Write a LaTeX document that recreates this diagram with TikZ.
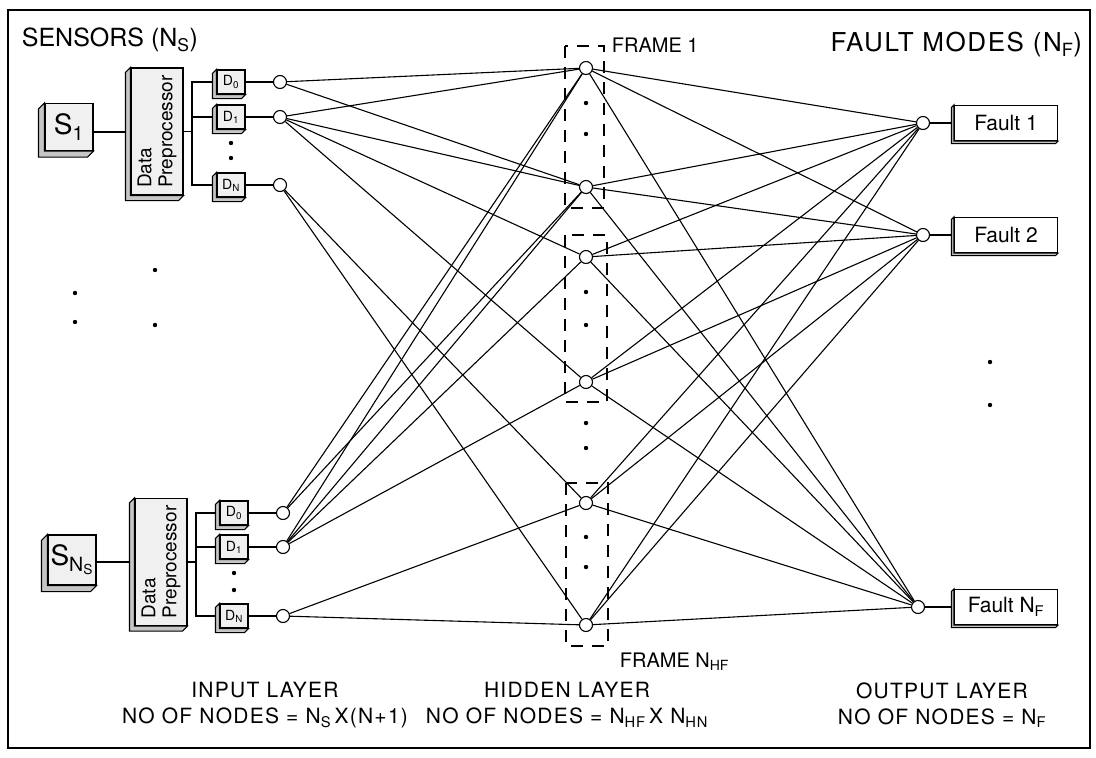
\documentclass[tikz,border=0pt]{standalone}
\usepackage{fontspec}
\setmainfont{TeX Gyre Heros}
\newfontfamily\spacedfont[LetterSpace=6]{TeX Gyre Heros}
\usetikzlibrary{calc}

\newcommand{\depthbox}[2]{%
  \draw[fill=gray!45] (#1.north west) -- ++(-#2,-#2) |- ($(#1.south east)+(-#2,-#2)$)
    -- (#1.south east) -- (#1.south west) -- cycle;}

\begin{document}
\begin{tikzpicture}[x=1pt, y=-1pt, line width=1.1pt,
  neuron/.style={circle, draw, fill=white, inner sep=0pt, minimum size=13pt},
  sbox/.style={draw, fill=gray!12, inner sep=0pt, minimum width=48pt, minimum height=47pt, font=\fontsize{28}{28}\selectfont},
  pbox/.style={draw, fill=gray!12, inner sep=0pt, minimum width=52pt, minimum height=127pt},
  dbox/.style={draw, fill=gray!12, inner sep=0pt, minimum width=28pt, minimum height=24pt, font=\fontsize{14}{14}\selectfont},
  fbox/.style={draw, fill=white, inner sep=0pt, minimum width=103pt, minimum height=35pt, font=\fontsize{21}{21}\selectfont},
  frame/.style={dash pattern=on 12pt off 9pt, line width=2.4pt},
  label/.style={font=\spacedfont\fontsize{21}{26}\selectfont, align=center}]
\useasboundingbox (0,0) rectangle (1096,758);
\draw (8,10) rectangle (1090,748);

% headings
\node[anchor=west, font=\fontsize{25}{25}\selectfont] (sensors) at (18,40) {SENSORS (N\textsubscript{S})};
\node[anchor=west, font=\fontsize{20}{20}\selectfont] (frame1) at (608,45) {FRAME 1};
\node[anchor=east, font=\spacedfont\fontsize{26}{26}\selectfont] (faults) at (1086,45) {FAULT MODES (N\textsubscript{F})};
\node[anchor=west, font=\fontsize{20}{20}\selectfont] (framen) at (616,662) {FRAME N\textsubscript{HF}};

% sensors and preprocessors
\node[sbox] (s1) at (69,127) {S\textsubscript{1}};
\node[sbox, minimum height=50pt] (sn) at (72,560) {S\textsubscript{N\textsubscript{S}}};
\node[pbox] (p1) at (157,131.5) {};
\node[pbox] (p2) at (161,562) {};
\node[rotate=90, align=left, font=\fontsize{19}{21}\selectfont] (t1) at (p1) {Data\\Preprocessor};
\node[rotate=90, align=left, font=\fontsize{19}{21}\selectfont] (t2) at (p2) {Data\\Preprocessor};

% delayed samples
\node[dbox] (d10) at (231,82) {D\textsubscript{0}};
\node[dbox] (d11) at (231,117) {D\textsubscript{1}};
\node[dbox] (d1n) at (231,185) {D\textsubscript{N}};
\node[dbox] (d20) at (234,513) {D\textsubscript{0}};
\node[dbox] (d21) at (234,547) {D\textsubscript{1}};
\node[dbox] (d2n) at (234,616) {D\textsubscript{N}};
\coordinate (b1) at (192,131.5);
\coordinate (b2) at (196,562);

% input layer
\node[neuron] (i1) at (280,82) {};
\node[neuron] (i2) at (280,117) {};
\node[neuron] (i3) at (280,185) {};
\node[neuron] (i4) at (283,513) {};
\node[neuron] (i5) at (283,547) {};
\node[neuron] (i6) at (283,616) {};

% hidden layer
\node[neuron] (h1) at (586,68) {};
\node[neuron] (h2) at (586,187) {};
\node[neuron] (h3) at (586,257) {};
\node[neuron] (h4) at (586,382) {};
\node[neuron] (h5) at (586,503) {};
\node[neuron] (h6) at (586,625) {};

% output layer
\node[neuron] (o1) at (923,123) {};
\node[neuron] (o2) at (923,235) {};
\node[neuron] (o3) at (918,607) {};
\node[fbox] (f1) at (1006,123) {Fault 1};
\node[fbox] (f2) at (1006,235) {Fault 2};
\node[fbox] (f3) at (1006,607) {Fault N\textsubscript{F}};

% frames
\draw[frame] (565,46) rectangle (604,208);
\draw[frame] (565,235) rectangle (607,402);
\draw[frame] (566,483) rectangle (608,646);

% layer captions
\node[label] (inlayer) at (265,705) {INPUT LAYER\\NO OF NODES = N\textsubscript{S}\,X(N+1)};
\node[label] (hidlayer) at (567,705) {HIDDEN LAYER\\NO OF NODES = N\textsubscript{HF}\,X N\textsubscript{HN}};
\node[label] (outlayer) at (942,705) {OUTPUT LAYER\\NO OF NODES = N\textsubscript{F}};

% sensor chains
\draw[line width=2pt] (s1.east |- p1) -- (p1.west);
\draw[line width=2pt] (sn.east |- p2) -- (p2.west);
\draw (p1.east) -- (b1);
\draw (d10.west) -| (b1) |- (d1n.west);
\draw (d11.west) -- (d11.west -| b1);
\draw (p2.east) -- (b2);
\draw (d20.west) -| (b2) |- (d2n.west);
\draw (d21.west) -- (d21.west -| b2);
\draw (d10.east) -- (i1);
\draw (d11.east) -- (i2);
\draw (d1n.east) -- (i3);
\draw (d20.east) -- (i4);
\draw (d21.east) -- (i5);
\draw (d2n.east) -- (i6);

% input to hidden
\draw (i1) -- (h1);
\draw (i1) -- (h2);
\draw (i2) -- (h1);
\draw (i2) -- (h2);
\draw (i2) -- (h3);
\draw (i2) -- (h4);
\draw (i3) -- (h5);
\draw (i3) -- (h6);
\draw (i4) -- (h1);
\draw (i4) -- (h2);
\draw (i5) -- (h1);
\draw (i5) -- (h2);
\draw (i5) -- (h3);
\draw (i5) -- (h4);
\draw (i6) -- (h5);
\draw (i6) -- (h6);

% hidden to output
\draw (h1) -- (o1);
\draw (h1) -- (o2);
\draw (h1) -- (o3);
\draw (h2) -- (o1);
\draw (h2) -- (o2);
\draw (h2) -- (o3);
\draw (h3) -- (o1);
\draw (h3) -- (o2);
\draw (h3) -- (o3);
\draw (h4) -- (o1);
\draw (h4) -- (o2);
\draw (h4) -- (o3);
\draw (h5) -- (o1);
\draw (h5) -- (o2);
\draw (h5) -- (o3);
\draw (h6) -- (o1);
\draw (h6) -- (o2);
\draw (h6) -- (o3);
\draw (o1) -- (f1);
\draw (o2) -- (f2);
\draw (o3) -- (f3);

% box depth
\depthbox{s1}{6pt}
\depthbox{sn}{6pt}
\depthbox{p1}{5pt}
\depthbox{p2}{5pt}
\depthbox{d10}{4pt}
\depthbox{d11}{4pt}
\depthbox{d1n}{4pt}
\depthbox{d20}{4pt}
\depthbox{d21}{4pt}
\depthbox{d2n}{4pt}
\depthbox{f1}{2.5pt}
\depthbox{f2}{2.5pt}
\depthbox{f3}{2.5pt}

% dots
\fill (231,143) circle (2.2pt);
\fill (231,158) circle (2.2pt);
\fill (234,573) circle (2.2pt);
\fill (234,590) circle (2.2pt);
\fill (75,293) circle (2.2pt);
\fill (75,322) circle (2.2pt);
\fill (155,270) circle (2.2pt);
\fill (155,325) circle (2.2pt);
\fill (586,103) circle (2.2pt);
\fill (586,134) circle (2.2pt);
\fill (586,292) circle (2.2pt);
\fill (586,325) circle (2.2pt);
\fill (586,423) circle (2.2pt);
\fill (586,448) circle (2.2pt);
\fill (586,537) circle (2.2pt);
\fill (586,567) circle (2.2pt);
\fill (990,362) circle (2.2pt);
\fill (990,405) circle (2.2pt);
\end{tikzpicture}
\end{document}
